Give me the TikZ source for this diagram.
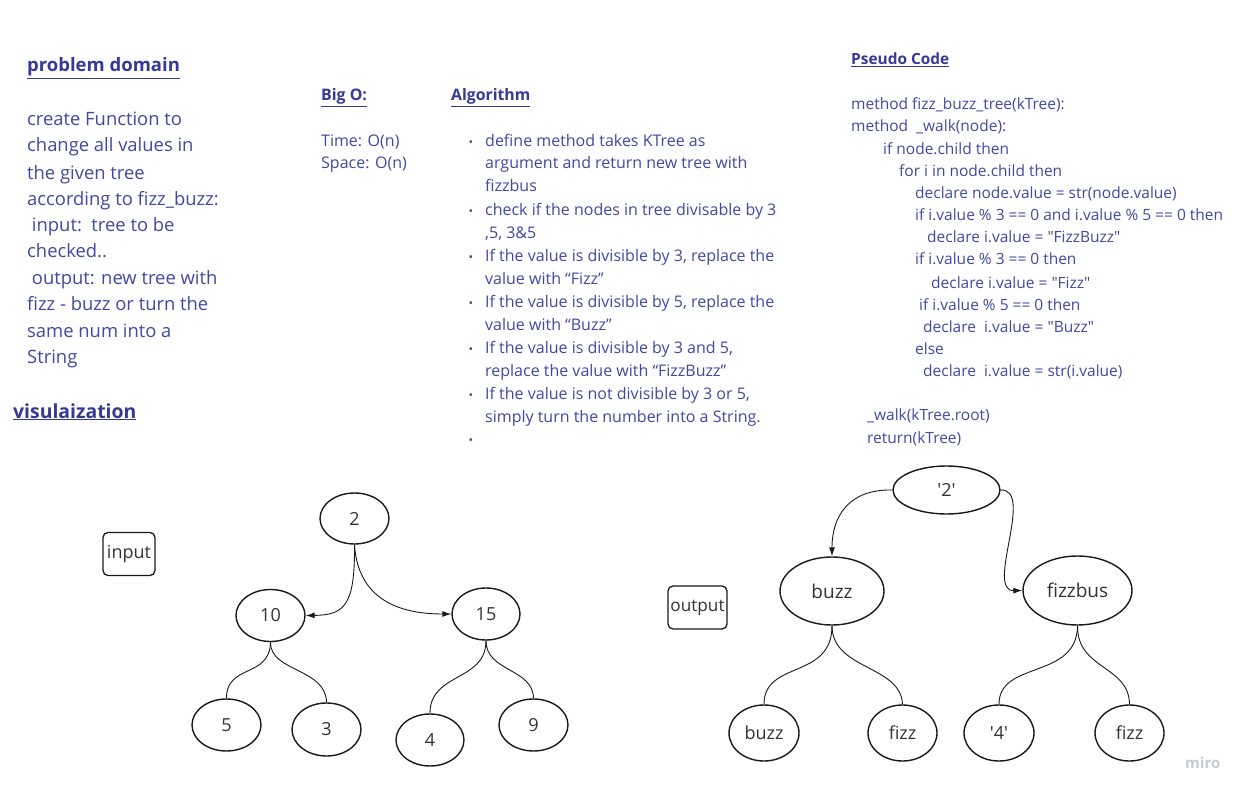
\documentclass[tikz,border=0pt]{standalone}
\usepackage{fontspec}
\setmainfont{Open Sans}
\usetikzlibrary{arrows.meta,shapes.geometric}
\definecolor{txt}{RGB}{66,72,162}
\definecolor{hd}{RGB}{52,58,150}
\definecolor{lc}{RGB}{25,25,25}
\definecolor{nt}{RGB}{50,50,50}
\definecolor{logo}{RGB}{200,202,210}
\newcommand{\sq}{\textquotesingle}
\newcommand{\dq}{\textquotedbl}
\tikzset{
  body/.style={anchor=base west, inner sep=0pt, text=txt, font=\fontsize{18.4}{20}\selectfont},
  alg/.style={anchor=base west, inner sep=0pt, text=txt, font=\fontsize{16}{18}\selectfont},
  code/.style={anchor=base west, inner sep=0pt, text=txt, font=\fontsize{15.5}{17}\selectfont},
  head/.style={anchor=base west, inner sep=0pt, text=hd, font=\bfseries\fontsize{#1}{20}\selectfont},
  bul/.style={anchor=base, inner sep=0pt, text=txt, font=\fontsize{12}{14}\selectfont},
  tn/.style args={#1/#2}{draw=lc, line width=1.4pt, ellipse, inner sep=0pt, minimum width=#1pt, minimum height=#2pt, text=nt, font=\fontsize{18}{20}\selectfont},
  tag/.style={draw=lc, line width=1.3pt, rounded corners=5pt, inner sep=0pt, text=nt},
  link/.style={draw=lc, line width=0.9pt},
  arr/.style={link, -{Latex[length=9pt,width=6pt]}},
}
\begin{document}
\begin{tikzpicture}[x=1pt,y=-1pt]
\useasboundingbox (0,0) rectangle (1254,797);

% problem domain
\node[head=18.5] (pd) at (27,72) {\underline{problem domain}};
\node[body] (p1) at (27,126) {create Function to};
\node[body] (p2) at (27,152) {change all values in};
\node[body] (p3) at (27,179) {the given tree};
\node[body] (p4) at (27,205) {according to fizz\_buzz:};
\node[body] (p5) at (27,231) {\ input:\ \ tree to be};
\node[body] (p6) at (27,258) {checked..};
\node[body] (p7) at (27,284) {\ output: new tree with};
\node[body] (p8) at (27,310) {fizz - buzz or turn the};
\node[body] (p9) at (27,337) {same num into a};
\node[body] (p10) at (27,363) {String};
\node[head=19.4] (vis) at (13,418) {\underline{visulaization}};

% Big O
\node[head=15.9] (bo) at (321,101) {\underline{Big O:}};
\node[alg] (bo1) at (321,147) {Time: O(n)};
\node[alg] (bo2) at (321,169) {Space: O(n)};

% Algorithm
\node[head=15.8] (al) at (451,101) {\underline{Algorithm}};
\node[bul] (b1) at (471,147) {•};
\node[alg] (a1) at (485,147) {define method takes KTree as};
\node[alg] (a2) at (485,169) {argument and return new tree with};
\node[alg] (a3) at (485,192) {fizzbus};
\node[bul] (b2) at (471,215) {•};
\node[alg] (a4) at (485,215) {check if the nodes in tree divisable by 3};
\node[alg] (a5) at (485,238) {,5, 3\&5};
\node[bul] (b3) at (471,261) {•};
\node[alg] (a6) at (485,261) {If the value is divisible by 3, replace the};
\node[alg] (a7) at (485,284) {value with “Fizz”};
\node[bul] (b4) at (471,307) {•};
\node[alg] (a8) at (485,307) {If the value is divisible by 5, replace the};
\node[alg] (a9) at (485,330) {value with “Buzz”};
\node[bul] (b5) at (471,353) {•};
\node[alg] (a10) at (485,353) {If the value is divisible by 3 and 5,};
\node[alg] (a11) at (485,376) {replace the value with “FizzBuzz”};
\node[bul] (b6) at (471,399) {•};
\node[alg] (a12) at (485,399) {If the value is not divisible by 3 or 5,};
\node[alg] (a13) at (485,422) {simply turn the number into a String.};
\node[bul] (b7) at (471,444) {•};

% Pseudo code
\node[head=15.4] (pc) at (851,65) {\underline{Pseudo Code}};
\node[code] (c1) at (851,110) {method fizz\_buzz\_tree(kTree):};
\node[code] (c2) at (851,132) {method \ \_walk(node):};
\node[code] (c3) at (883,155) {if node.child then};
\node[code] (c4) at (899,177) {for i in node.child then};
\node[code] (c5) at (915,199) {declare node.value = str(node.value)};
\node[code] (c6) at (915,221) {if i.value \% 3 == 0 and i.value \% 5 == 0 then};
\node[code] (c7) at (927,243) {declare i.value = \dq FizzBuzz\dq};
\node[code] (c8) at (915,265) {if i.value \% 3 == 0 then};
\node[code] (c9) at (931,288) {declare i.value = \dq Fizz\dq};
\node[code] (c10) at (919,310) {if i.value \% 5 == 0 then};
\node[code] (c11) at (923,332) {declare \ i.value = \dq Buzz\dq};
\node[code] (c12) at (915,354) {else};
\node[code] (c13) at (923,376) {declare \ i.value = str(i.value)};
\node[code] (c14) at (867,420) {\_walk(kTree.root)};
\node[code] (c15) at (867,443) {return(kTree)};

% input tree
\node[tag, minimum width=52pt, minimum height=43pt, font=\fontsize{18}{18}\selectfont] (inp) at (129,554) {input};
\node[tn=69/51] (r) at (354.5,518.5) {2};
\node[tn=69/52] (n10) at (270.5,615.5) {10};
\node[tn=68/52] (n15) at (486,614) {15};
\node[tn=69/52] (n5) at (226.5,725) {5};
\node[tn=69/53] (n3) at (326.5,729.5) {3};
\node[tn=68/52] (n4) at (430,740) {4};
\node[tn=69/52] (n9) at (533.5,725) {9};

\draw[arr] (r.south) .. controls (355,605) and (345,615) .. (n10.east);
\draw[arr] (r.south) .. controls (358,600) and (400,614) .. (n15.west);
\draw[link] (n10.south) .. controls (270,678) and (226,664) .. (n5.north);
\draw[link] (n10.south) .. controls (270,672) and (326,668) .. (n3.north);
\draw[link] (n15.south) .. controls (486,682) and (430,672) .. (n4.north);
\draw[link] (n15.south) .. controls (486,672) and (533,668) .. (n9.north);

% output tree
\node[tag, minimum width=59pt, minimum height=43pt, font=\fontsize{17.2}{18}\selectfont] (outp) at (697.5,607.5) {output};
\node[tn=107/48] (q) at (946.5,490) {\sq 2\sq};
\node[tn=104/68, font=\fontsize{19}{20}\selectfont] (bz) at (832,591) {buzz};
\node[tn=109/69, font=\fontsize{19}{20}\selectfont] (fb) at (1077.5,590.5) {fizzbus};
\node[tn=70/56] (s1) at (764,733) {buzz};
\node[tn=69/56] (s2) at (902.5,733) {fizz};
\node[tn=70/56] (s3) at (999,733) {\sq 4\sq};
\node[tn=69/56] (s4) at (1129.5,733) {fizz};

\draw[arr] (q.west) .. controls (850,489) and (832,515) .. (bz.north);
\draw[arr] (q.east) .. controls (1035,489) and (985,591) .. (fb.west);
\draw[link] (bz.south) .. controls (832,680) and (764,660) .. (s1.north);
\draw[link] (bz.south) .. controls (832,670) and (901,665) .. (s2.north);
\draw[link] (fb.south) .. controls (1077,680) and (999,660) .. (s3.north);
\draw[link] (fb.south) .. controls (1077,670) and (1129,665) .. (s4.north);

% logo
\node[anchor=base west, inner sep=0pt, text=logo, font=\bfseries\fontsize{15}{16}\selectfont] (miro) at (1185,768) {miro};
\end{tikzpicture}
\end{document}
